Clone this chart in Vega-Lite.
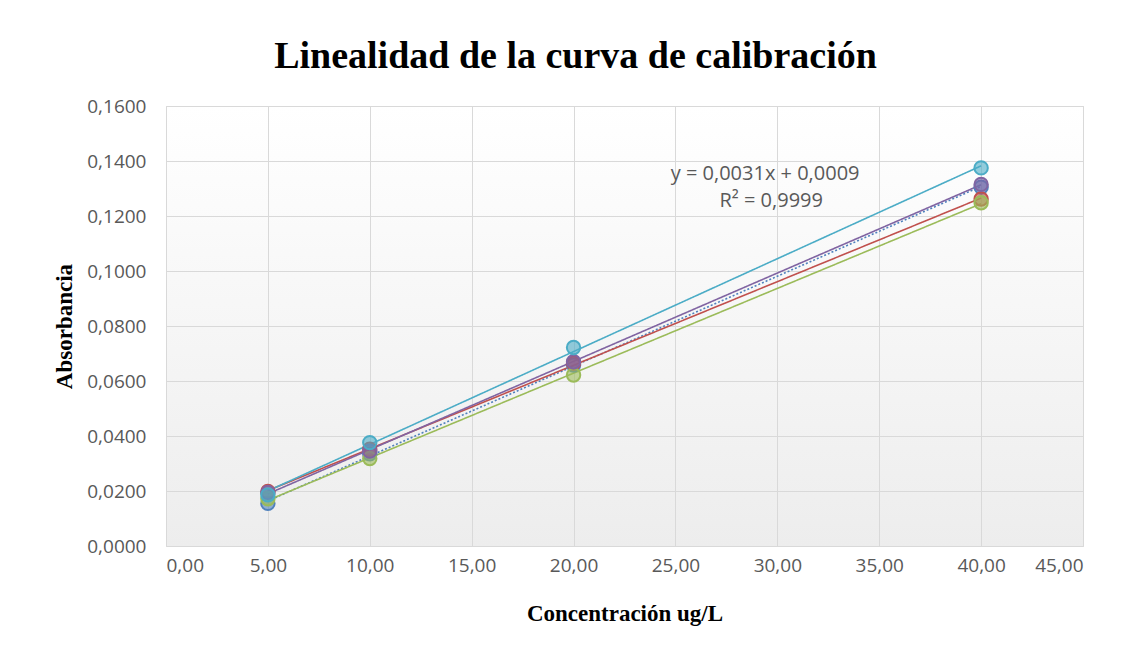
{
  "$schema": "https://vega.github.io/schema/vega-lite/v6.json",
  "width": 917,
  "height": 440,
  "autosize": "none",
  "padding": {"left": 166, "top": 106, "right": 43, "bottom": 105},
  "background": "white",
  "title": {
    "text": "Linealidad de la curva de calibración",
    "font": "Liberation Serif",
    "fontSize": 38,
    "fontWeight": "bold",
    "color": "black",
    "anchor": "middle",
    "dx": -49,
    "offset": 21
  },
  "config": {
    "locale": {"number": {"decimal": ",", "thousands": ".", "grouping": [3], "currency": ["", " €"]}},
    "view": {
      "stroke": "#D9D9D9",
      "fill": {"gradient": "linear", "x1": 0, "y1": 0, "x2": 0, "y2": 1, "stops": [{"offset": 0, "color": "#FFFFFF"}, {"offset": 1, "color": "#EDEDED"}]}
    },
    "axis": {
      "grid": true,
      "gridColor": "#D9D9D9",
      "gridWidth": 1,
      "domain": false,
      "ticks": false,
      "labelColor": "#595959",
      "labelFont": "Open Sans",
      "labelFontSize": 19,
      "titleFont": "Liberation Serif",
      "titleFontSize": 23,
      "titleFontWeight": "bold",
      "titleColor": "black"
    }
  },
  "datasets": {
    "medidas": [
      {"serie": "S1", "x": 5, "y": 0.0155},
      {"serie": "S1", "x": 10, "y": 0.0335},
      {"serie": "S1", "x": 20, "y": 0.0658},
      {"serie": "S1", "x": 40, "y": 0.1305},
      {"serie": "S2", "x": 5, "y": 0.0198},
      {"serie": "S2", "x": 10, "y": 0.0352},
      {"serie": "S2", "x": 20, "y": 0.0665},
      {"serie": "S2", "x": 40, "y": 0.1262},
      {"serie": "S3", "x": 5, "y": 0.0172},
      {"serie": "S3", "x": 10, "y": 0.0318},
      {"serie": "S3", "x": 20, "y": 0.0622},
      {"serie": "S3", "x": 40, "y": 0.1248},
      {"serie": "S4", "x": 5, "y": 0.0195},
      {"serie": "S4", "x": 10, "y": 0.0345},
      {"serie": "S4", "x": 20, "y": 0.0670},
      {"serie": "S4", "x": 40, "y": 0.1315},
      {"serie": "S5", "x": 5, "y": 0.0186},
      {"serie": "S5", "x": 10, "y": 0.0376},
      {"serie": "S5", "x": 20, "y": 0.0722},
      {"serie": "S5", "x": 40, "y": 0.1375}
    ]
  },
  "layer": [
    {
      "data": {"name": "medidas"},
      "transform": [{"regression": "y", "on": "x", "groupby": ["serie"]}],
      "mark": {"type": "line", "strokeWidth": 1.6},
      "encoding": {
        "x": {
          "field": "x",
          "type": "quantitative",
          "scale": {"domain": [0, 45], "nice": false, "zero": false},
          "axis": {"values": [0, 5, 10, 15, 20, 25, 30, 35, 40, 45], "format": ".2f", "labelPadding": 10, "title": "Concentración ug/L", "titlePadding": 27}
        },
        "y": {
          "field": "y",
          "type": "quantitative",
          "scale": {"domain": [0, 0.16], "nice": false},
          "axis": {"values": [0, 0.02, 0.04, 0.06, 0.08, 0.1, 0.12, 0.14, 0.16], "format": ".4f", "labelPadding": 20, "title": "Absorbancia", "titlePadding": 10}
        },
        "color": {"field": "serie", "type": "nominal", "legend": null,
          "scale": {"domain": ["S1", "S2", "S3", "S4", "S5"], "range": ["#4F81BD", "#C0504D", "#9BBB59", "#8064A2", "#4BACC6"]}},
        "strokeDash": {"field": "serie", "type": "nominal", "legend": null,
          "scale": {"domain": ["S1", "S2", "S3", "S4", "S5"], "range": [[2, 2], [1, 0], [1, 0], [1, 0], [1, 0]]}}
      }
    },
    {
      "data": {"name": "medidas"},
      "mark": {"type": "point", "shape": "circle", "filled": true, "size": 180, "fillOpacity": 0.6, "strokeWidth": 2, "strokeOpacity": 1},
      "encoding": {
        "x": {"field": "x", "type": "quantitative"},
        "y": {"field": "y", "type": "quantitative"},
        "color": {"field": "serie", "type": "nominal", "legend": null,
          "scale": {"domain": ["S1", "S2", "S3", "S4", "S5"], "range": ["#4F81BD", "#C0504D", "#9BBB59", "#8064A2", "#4BACC6"]}},
        "stroke": {"field": "serie", "type": "nominal", "legend": null,
          "scale": {"domain": ["S1", "S2", "S3", "S4", "S5"], "range": ["#4F81BD", "#C0504D", "#9BBB59", "#8064A2", "#4BACC6"]}}
      }
    },
    {
      "data": {"values": [{"t": "y = 0,0031x + 0,0009"}]},
      "mark": {"type": "text", "font": "Open Sans", "fontSize": 20, "fill": "#595959", "align": "center", "baseline": "middle"},
      "encoding": {
        "x": {"datum": 29.4, "type": "quantitative"},
        "y": {"datum": 0.1353, "type": "quantitative"},
        "text": {"field": "t", "type": "nominal"}
      }
    },
    {
      "data": {"values": [{"t": "R² = 0,9999"}]},
      "mark": {"type": "text", "font": "Open Sans", "fontSize": 20, "fill": "#595959", "align": "center", "baseline": "middle"},
      "encoding": {
        "x": {"datum": 29.7, "type": "quantitative"},
        "y": {"datum": 0.1255, "type": "quantitative"},
        "text": {"field": "t", "type": "nominal"}
      }
    }
  ]
}
